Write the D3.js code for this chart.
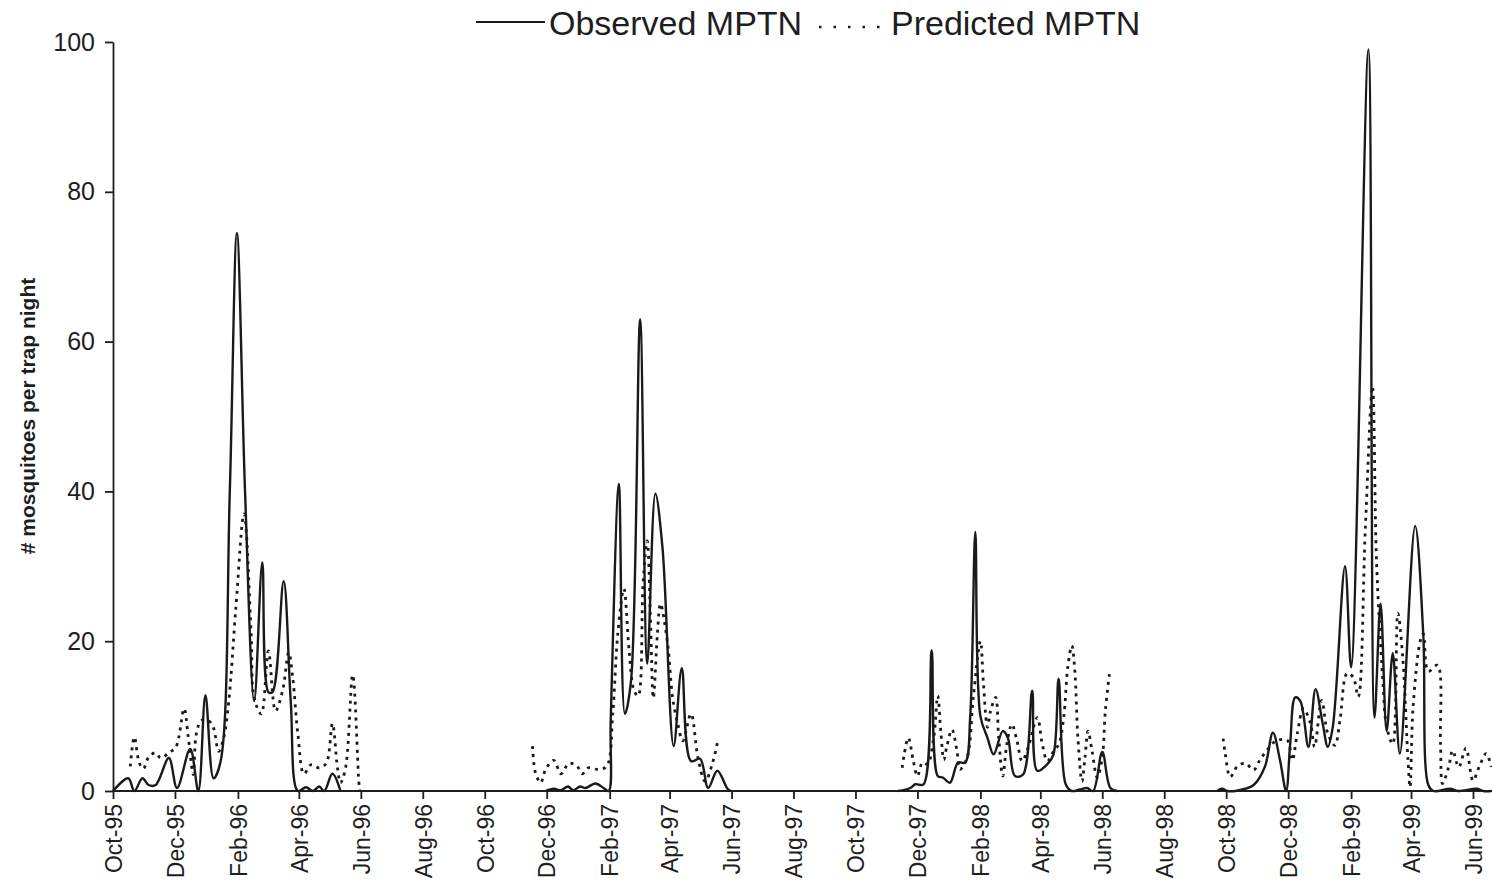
<!DOCTYPE html>
<html>
<head>
<meta charset="utf-8">
<script src="https://cdn.jsdelivr.net/npm/d3@7"></script>
<style>
  body { margin: 0; background: #fff; }
  svg { display: block; font-family: "Liberation Sans", Arial, sans-serif; }
  .axis text { fill: #1e1e1e; }
  .axis path, .axis line { stroke: #1e1e1e; stroke-width: 1.8; }
</style>
</head>
<body>
<script>
var width = 1492
var height = 888

// x tick labels (every two months)
var tickLabels = ["Oct-95", "Dec-95", "Feb-96", "Apr-96", "Jun-96", "Aug-96", "Oct-96", "Dec-96",
  "Feb-97", "Apr-97", "Jun-97", "Aug-97", "Oct-97", "Dec-97", "Feb-98", "Apr-98", "Jun-98",
  "Aug-98", "Oct-98", "Dec-98", "Feb-99", "Apr-99", "Jun-99"]
var yTicks = [0, 20, 40, 60, 80, 100]

// observed mosquitoes per trap night, by season
var obs1 = [["1995-10-01",0],["1995-10-16",1.7],["1995-10-22",0],["1995-10-30",1.7],["1995-11-05",0.8],
  ["1995-11-12",0.8],["1995-11-25",4.4],["1995-12-03",0.4],["1995-12-16",5.6],["1995-12-24",0],
  ["1995-12-31",12.8],["1996-01-08",1.7],["1996-01-15",4],["1996-01-24",40],["1996-01-31",74.5],
  ["1996-02-08",40],["1996-02-17",12],["1996-02-25",30.5],["1996-03-02",13.2],["1996-03-06",13.2],
  ["1996-03-17",28],["1996-03-24",12],["1996-03-31",0],["1996-04-08",0.5],["1996-04-15",0],
  ["1996-04-21",0.6],["1996-04-26",0],["1996-05-04",2.3],["1996-05-12",0]]
var obs2 = [["1996-11-30",0],["1996-12-08",0.3],["1996-12-15",0.1],["1996-12-22",0.6],["1996-12-27",0.1],
  ["1997-01-03",0.6],["1997-01-08",0.4],["1997-01-18",1.0],["1997-01-26",0.4],["1997-01-31",0],
  ["1997-02-02",9.4],["1997-02-10",41],["1997-02-16",10.3],["1997-02-22",14.7],["1997-03-03",63],
  ["1997-03-10",17],["1997-03-18",39.7],["1997-03-25",32.5],["1997-04-05",6],["1997-04-13",16.4],
  ["1997-04-22",4],["1997-05-01",4.3],["1997-05-09",0.4],["1997-05-18",2.7],["1997-05-28",0.3],
  ["1997-05-31",0]]
var obs3 = [["1997-11-12",0],["1997-11-24",0.4],["1997-11-29",0.9],["1997-12-07",0.9],["1997-12-15",18.8],
  ["1997-12-21",2],["1997-12-26",1.8],["1998-01-02",1.1],["1998-01-10",3.8],["1998-01-17",3.8],
  ["1998-01-22",10],["1998-01-27",34.6],["1998-02-01",10],["1998-02-08",7.1],["1998-02-14",4.9],
  ["1998-02-23",8],["1998-02-28",7.1],["1998-03-07",2],["1998-03-15",2.2],["1998-03-24",13.4],
  ["1998-03-29",2.7],["1998-04-08",3.6],["1998-04-14",4.9],["1998-04-19",15],["1998-04-26",0.9],
  ["1998-05-02",0],["1998-05-10",0.2],["1998-05-17",0.4],["1998-05-23",0],["1998-06-01",5.2],
  ["1998-06-09",0.4],["1998-06-16",0]]
var obs4 = [["1998-09-22",0],["1998-09-27",0.3],["1998-10-02",0],["1998-10-10",0],["1998-10-28",0.8],
  ["1998-11-08",3.2],["1998-11-16",7.8],["1998-11-23",4.1],["1998-11-29",0],["1998-12-03",6.3],
  ["1998-12-08",12.5],["1998-12-13",12],["1998-12-21",5.9],["1998-12-28",13.6],["1999-01-04",9],
  ["1999-01-09",5.9],["1999-01-14",8.6],["1999-01-26",30],["1999-02-01",16.5],["1999-02-18",99],
  ["1999-02-24",9.8],["1999-03-02",25],["1999-03-08",8],["1999-03-14",18.4],["1999-03-21",5],
  ["1999-04-05",35.4],["1999-04-13",21],["1999-04-18",0.8],["1999-04-23",0],["1999-05-10",0.3],
  ["1999-05-17",0],["1999-06-05",0.3],["1999-06-11",0],["1999-06-19",0]]

// predicted mosquitoes per trap night, by season
var pred1 = [["1995-10-18",3.3],["1995-10-22",7.2],["1995-10-27",3.7],["1995-10-31",3.0],["1995-11-05",4.5],
  ["1995-11-12",5.1],["1995-11-17",4.4],["1995-11-25",5.1],["1995-12-02",5.9],["1995-12-10",11],
  ["1995-12-14",7.3],["1995-12-19",2.2],["1995-12-22",7.6],["1995-12-27",9.4],["1996-01-03",9.4],
  ["1996-01-08",8.4],["1996-01-13",5.3],["1996-01-18",7.1],["1996-01-23",12],["1996-01-30",24.5],
  ["1996-02-07",37],["1996-02-14",21],["1996-02-17",12.4],["1996-02-24",10.3],["1996-03-02",18.7],
  ["1996-03-09",10.7],["1996-03-16",13.4],["1996-03-22",18.5],["1996-03-26",15.1],["1996-03-31",7.6],
  ["1996-04-06",2.3],["1996-04-13",3.5],["1996-04-21",3.1],["1996-04-28",3.7],["1996-05-04",9],
  ["1996-05-09",3.1],["1996-05-12",1.1],["1996-05-17",3.1],["1996-05-24",15.5],["1996-05-30",1.3],
  ["1996-05-31",0]]
var pred2 = [["1996-11-17",6.0],["1996-11-20",2.4],["1996-11-25",1.1],["1996-11-30",2.9],["1996-12-08",4.1],
  ["1996-12-15",2.3],["1996-12-23",3.7],["1996-12-31",3.3],["1997-01-05",2.3],["1997-01-11",3.1],
  ["1997-01-20",2.9],["1997-01-29",3.3],["1997-02-04",10.3],["1997-02-09",21],["1997-02-15",27],
  ["1997-02-20",19],["1997-02-25",13.4],["1997-03-01",12.7],["1997-03-06",28],["1997-03-10",33.4],
  ["1997-03-13",23.7],["1997-03-16",12.4],["1997-03-20",21],["1997-03-23",25],["1997-03-30",19.7],
  ["1997-04-04",12.4],["1997-04-09",9],["1997-04-14",6.7],["1997-04-22",10.3],["1997-04-29",4.4],
  ["1997-05-06",1.3],["1997-05-13",3.6],["1997-05-18",6.4]]
var pred3 = [["1997-11-16",3.1],["1997-11-18",4.9],["1997-11-22",7.1],["1997-11-27",4],["1997-12-01",2],
  ["1997-12-06",3.8],["1997-12-11",3.6],["1997-12-17",7.1],["1997-12-21",12.7],["1997-12-24",8],
  ["1997-12-27",4.2],["1997-12-30",6],["1998-01-04",8.2],["1998-01-09",5.3],["1998-01-12",2.9],
  ["1998-01-19",4.5],["1998-01-25",12.5],["1998-02-01",20],["1998-02-04",14.3],["1998-02-08",8.5],
  ["1998-02-11",10.7],["1998-02-16",12.5],["1998-02-19",7.1],["1998-02-23",2],["1998-02-27",6.2],
  ["1998-03-04",8.9],["1998-03-09",6.7],["1998-03-14",4],["1998-03-20",5.8],["1998-03-29",9.8],
  ["1998-04-03",6.2],["1998-04-08",4],["1998-04-14",5.3],["1998-04-19",6.2],["1998-04-24",9.8],
  ["1998-04-28",16.5],["1998-05-02",19.4],["1998-05-05",16],["1998-05-08",7.1],["1998-05-12",1.3],
  ["1998-05-15",4.5],["1998-05-18",8],["1998-05-22",5.3],["1998-05-27",1.8],["1998-06-01",4.5],
  ["1998-06-04",10.7],["1998-06-08",15.6]]
var pred4 = [["1998-09-28",7],["1998-09-30",5],["1998-10-05",1.9],["1998-10-12",3.3],["1998-10-20",3.7],
  ["1998-10-28",2.8],["1998-11-03",4.1],["1998-11-10",5.4],["1998-11-18",6.6],["1998-11-30",6.8],
  ["1998-12-05",4.1],["1998-12-10",7.7],["1998-12-16",11],["1998-12-23",9],["1998-12-27",5.9],
  ["1999-01-03",12.1],["1999-01-09",7.7],["1999-01-16",6.1],["1999-01-21",9.4],["1999-01-28",15.7],
  ["1999-02-03",15.2],["1999-02-08",12.6],["1999-02-15",35],["1999-02-22",54],["1999-02-26",30.7],
  ["1999-03-04",15.2],["1999-03-08",8.6],["1999-03-14",6.3],["1999-03-19",23.7],["1999-03-24",17.5],
  ["1999-03-29",4.1],["1999-03-31",0.5],["1999-04-03",11.2],["1999-04-10",20],["1999-04-13",21],
  ["1999-04-18",16],["1999-04-27",16.8],["1999-04-30",6.3],["1999-05-02",1],["1999-05-08",3.2],
  ["1999-05-12",5.4],["1999-05-18",3.2],["1999-05-25",5.7],["1999-06-01",1.4],["1999-06-07",3.2],
  ["1999-06-14",5],["1999-06-19",3.2]]

var observed = [obs1, obs2, obs3, obs4]
var predicted = [pred1, pred2, pred3, pred4]

var parseDate = d3.timeParse("%Y-%m-%d")
var parseTick = d3.timeParse("%b-%y")

var svg = d3.select("body").append("svg")
    .attr("width", width)
    .attr("height", height)

var x = d3.scaleTime()
    .domain([parseDate("1995-10-01"), parseDate("1999-06-01")])
    .range([113, 1473])

var y = d3.scaleLinear()
    .domain([0, 100])
    .range([791, 42])

// y axis
var yAxis = svg.append("g")
    .attr("class", "axis")
    .attr("transform", "translate(" + x.range()[0] + ",0)")
    .call(d3.axisLeft(y).tickValues(yTicks).tickSize(8).tickSizeOuter(0).tickPadding(10))
yAxis.selectAll("text").style("font-size", "25px")

// x axis
var xAxis = svg.append("g")
    .attr("class", "axis")
    .attr("transform", "translate(0," + y(0) + ")")
    .call(d3.axisBottom(x)
      .tickValues(tickLabels.map(parseTick))
      .tickFormat(d3.timeFormat("%b-%y"))
      .tickSize(8).tickSizeOuter(0))
xAxis.select(".domain").attr("d", "M" + x.range()[0] + ",0H" + width)
xAxis.selectAll("text")
    .style("font-size", "23px")
    .attr("text-anchor", "end")
    .attr("transform", "rotate(-90)")
    .attr("x", -13)
    .attr("y", 0)
    .attr("dy", "0.36em")

// y title
svg.append("text")
    .attr("transform", "translate(35,416) rotate(-90)")
    .attr("text-anchor", "middle")
    .style("font-size", "21px")
    .style("font-weight", "bold")
    .attr("fill", "#1e1e1e")
    .text("# mosquitoes per trap night")

var line = d3.line()
    .x(function(d){ return x(parseDate(d[0])) })
    .y(function(d){ return y(d[1]) })
    .curve(d3.curveCatmullRom.alpha(0.5))

svg.selectAll(".pred").data(predicted).enter()
    .append("path")
    .attr("class", "pred")
    .attr("fill", "none")
    .attr("stroke", "#1a1a1a")
    .attr("stroke-width", 2.8)
    .attr("stroke-dasharray", "3,5")
    .attr("d", line)

svg.selectAll(".obs").data(observed).enter()
    .append("path")
    .attr("class", "obs")
    .attr("fill", "none")
    .attr("stroke", "#1a1a1a")
    .attr("stroke-width", 2.4)
    .attr("stroke-linejoin", "round")
    .attr("d", line)

// legend
var legend = svg.append("g")
legend.append("line")
    .attr("x1", 476).attr("x2", 545).attr("y1", 22).attr("y2", 22)
    .attr("stroke", "#1a1a1a").attr("stroke-width", 2)
legend.append("text")
    .attr("x", 549).attr("y", 35)
    .style("font-size", "34px").attr("fill", "#1e1e1e")
    .text("Observed MPTN")
legend.append("line")
    .attr("x1", 819).attr("x2", 880).attr("y1", 27).attr("y2", 27)
    .attr("stroke", "#1a1a1a").attr("stroke-width", 2.4)
    .attr("stroke-dasharray", "2.5,12")
legend.append("text")
    .attr("x", 891).attr("y", 35)
    .style("font-size", "34px").attr("fill", "#1e1e1e")
    .text("Predicted MPTN")
</script>
</body>
</html>
